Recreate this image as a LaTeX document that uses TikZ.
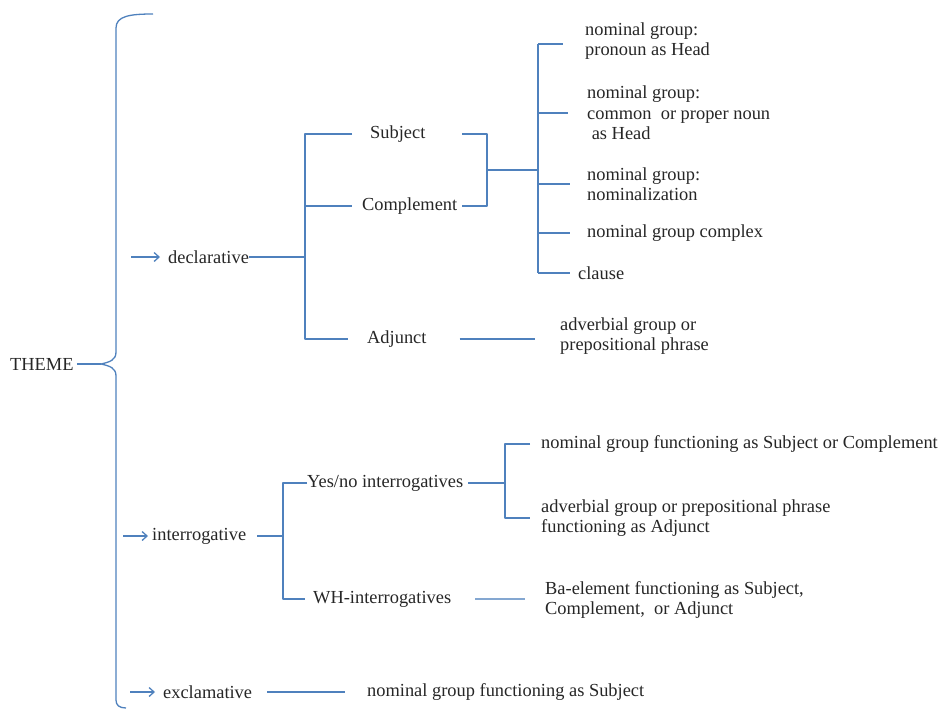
\documentclass[tikz,border=0pt]{standalone}
\usepackage{fontspec}
\setmainfont{Liberation Serif}
\usetikzlibrary{arrows.meta}
\definecolor{brblue}{HTML}{4F81BD}
\tikzset{
  brline/.style={draw=brblue, line width=1.3pt},
  lbl/.style={anchor=west, inner sep=0pt, align=left, text=black!85,
    font=\fontsize{18.4}{20.5}\selectfont},
}
\begin{document}
\begin{tikzpicture}[x=1pt, y=-1pt, line join=round, >={Straight Barb[length=5pt,width=9pt]}]
\useasboundingbox (0,0) rectangle (949,709);
% labels
\node[lbl] (theme) at (10,364) {THEME};
\node[lbl] (decl) at (168,257) {declarative};
\node[lbl] (inter) at (152,536) {interrogative};
\node[lbl] (excl) at (163,692) {exclamative};
\node[lbl] (subj) at (370,134) {Subject};
\node[lbl] (compl) at (362,206) {Complement};
\node[lbl] (adj) at (367,339) {Adjunct};
\node[lbl] (ngpro) at (585,41) {nominal group:\\pronoun as Head};
\node[lbl] (ngnoun) at (587,113) {nominal group:\\common\ \ or proper noun\\\ as Head};
\node[lbl] (ngnomz) at (587,184) {nominal group:\\nominalization};
\node[lbl] (ngcx) at (587,233) {nominal group complex};
\node[lbl] (clause) at (578,273) {clause};
\node[lbl] (advpp) at (560,336) {adverbial group or\\prepositional phrase};
\node[lbl] (yesno) at (307,483) {Yes/no interrogatives};
\node[lbl] (wh) at (313,599) {WH-interrogatives};
\node[lbl] (ngsc) at (541,444) {nominal group functioning as Subject or Complement};
\node[lbl] (advadj) at (541,518) {adverbial group or prepositional phrase\\functioning as Adjunct};
\node[lbl] (baelem) at (545,600) {Ba-element functioning as Subject,\\Complement,\ \ or Adjunct};
\node[lbl] (ngsubj) at (367,692) {nominal group functioning as Subject};
% junctions
\coordinate (tip) at (101,364);
\coordinate (declbar) at (305,257);
\coordinate (scbar) at (487,170);
\coordinate (ngbar) at (538,170);
\coordinate (interbar) at (283,536);
\coordinate (ynbar) at (505,483);
% brace
\draw[brline] (153,14) .. controls (130,14) and (116,16) .. (116,28) -- (116,352)
  .. controls (116,360) and (110,362) .. (tip) .. controls (110,366) and (116,368) .. (116,376)
  -- (116,700) .. controls (116,705) and (119,708) .. (126,708);
\draw[brline] ([xshift=3pt]theme.east) -- (tip);
% arrows
\draw[brline,->] (131,257) -- ([xshift=-8pt]decl.west);
\draw[brline,->] (123,536) -- ([xshift=-4pt]inter.west);
\draw[brline,->] (130,692) -- ([xshift=-8pt]excl.west);
% declarative
\draw[brline] (decl.east) -- (declbar);
\draw[brline] ([xshift=-18pt]subj.west) -| (declbar |- adj.west) -- ([xshift=-19pt]adj.west);
\draw[brline] (declbar |- compl.west) -- ([xshift=-10pt]compl.west);
\draw[brline] ([xshift=5pt]compl.east |- subj.east) -| (scbar) |- ([xshift=5pt]compl.east);
\draw[brline] (scbar) -- (ngbar);
\draw[brline] (ngbar |- 0,44) -- (ngbar |- clause.west);
\draw[brline] (ngbar |- 0,44) -- (563,44);
\draw[brline] (ngbar |- ngnoun.west) -- ([xshift=-19pt]ngnoun.west);
\draw[brline] (ngbar |- ngnomz.west) -- ([xshift=-17pt]ngnomz.west);
\draw[brline] (ngbar |- ngcx.west) -- ([xshift=-17pt]ngcx.west);
\draw[brline] (ngbar |- clause.west) -- ([xshift=-8pt]clause.west);
\draw[brline] ([xshift=33pt]adj.east) -- ([xshift=-25pt]advpp.west |- adj.east);
% interrogative
\draw[brline] ([xshift=11pt]inter.east) -- (interbar);
\draw[brline] (yesno.west) -| (interbar |- wh.west) -- ([xshift=-8pt]wh.west);
\draw[brline] ([xshift=5pt]yesno.east) -- (ynbar);
\draw[brline] ([xshift=-11pt]ngsc.west) -| (ynbar |- advadj.west) -- ([xshift=-11pt]advadj.west);
\draw[brline, brblue!70] ([xshift=24pt]wh.east) -- ([xshift=-20pt]baelem.west |- wh.east);
% exclamative
\draw[brline] ([xshift=15pt]excl.east) -- ([xshift=-22pt]ngsubj.west);
\end{tikzpicture}
\end{document}
